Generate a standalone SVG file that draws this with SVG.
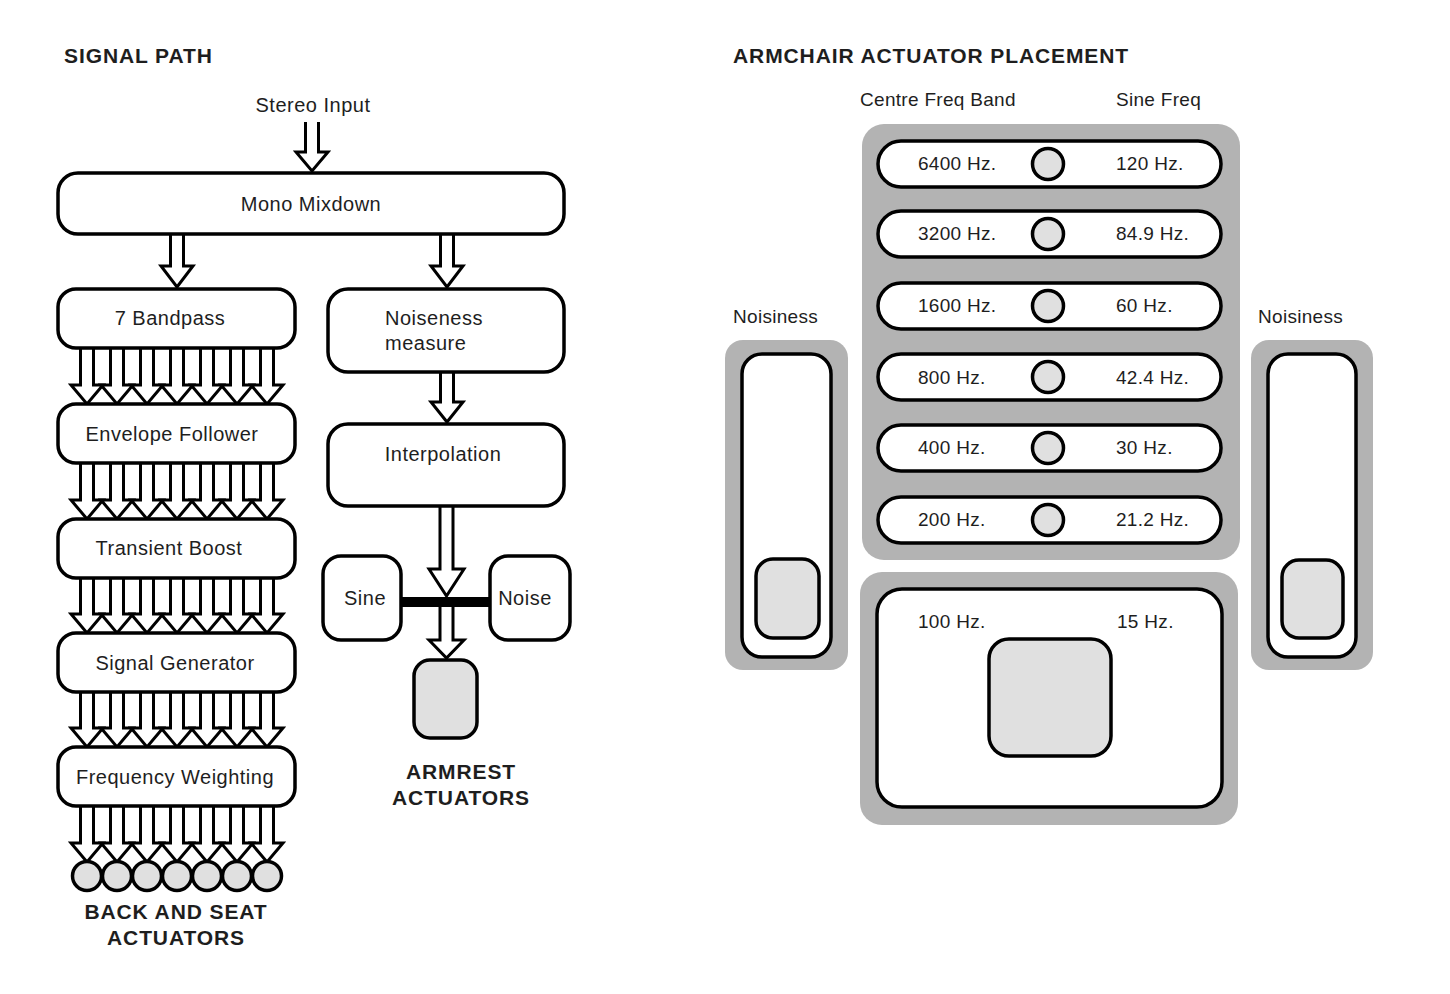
<svg xmlns="http://www.w3.org/2000/svg" xmlns:xlink="http://www.w3.org/1999/xlink" width="1450" height="994" viewBox="0 0 1450 994">
<style>
text{font-family:"Liberation Sans",Arial,Helvetica,sans-serif;fill:#1e1e1e}
.lbl{font-size:20px;letter-spacing:0.5px}
.sm{font-size:19px;letter-spacing:0.3px}
.ttl{font-size:21px;font-weight:bold;letter-spacing:0.9px}
.c{text-anchor:middle}
.box{fill:#fff;stroke:#000;stroke-width:3.5}
.gbox{fill:#e0e0e0;stroke:#000;stroke-width:3.5}
.panel{fill:#b3b3b3}
.arr{fill:#fff;stroke:#000;stroke-width:3;stroke-linejoin:miter}
</style>
<defs>
<path id="ar" class="arr" d="M-6.5,-58 V-19 H-16 L0,0 L16,-19 H6.5 V-58"/>
<g id="a7">
<use xlink:href="#ar" x="87"/><use xlink:href="#ar" x="117"/><use xlink:href="#ar" x="147"/><use xlink:href="#ar" x="177"/><use xlink:href="#ar" x="207"/><use xlink:href="#ar" x="237"/><use xlink:href="#ar" x="267"/>
</g>
</defs>
<rect width="1450" height="994" fill="#fff"/>

<text class="ttl" x="64" y="63">SIGNAL PATH</text>
<text class="ttl" x="733" y="63">ARMCHAIR ACTUATOR PLACEMENT</text>

<g id="connectors">
<path class="arr" d="M305.5,122 V152 H296 L312,171 L328,152 H318.5 V122"/>
<path class="arr" d="M170.5,234 V266 H161 L177,287 L193,266 H183.5 V234"/>
<path class="arr" d="M440.5,234 V266 H431 L447,287 L463,266 H453.5 V234"/>
<path class="arr" d="M440.5,372 V402 H431 L447,422 L463,402 H453.5 V372"/>
<path class="arr" d="M440,506 V569 H429 L446.5,596 L464,569 H453 V506"/>
<path class="arr" d="M440,604 V640 H429 L446.5,658 L464,640 H453 V604"/>
<rect x="400" y="597" width="90" height="10" fill="#000"/>
<use xlink:href="#a7" y="404"/>
<use xlink:href="#a7" y="519"/>
<use xlink:href="#a7" y="633"/>
<use xlink:href="#a7" y="747"/>
<use xlink:href="#a7" y="862"/>
</g>

<g id="stereo-input"><text class="lbl c" x="313" y="112">Stereo Input</text></g>
<g id="mono-mixdown"><rect class="box" x="58" y="173" width="506" height="61" rx="20"/><text class="lbl c" x="311" y="211">Mono Mixdown</text></g>
<g id="bandpass"><rect class="box" x="58" y="289" width="237" height="59" rx="18"/><text class="lbl c" x="170" y="325">7 Bandpass</text></g>
<g id="envelope"><rect class="box" x="58" y="404" width="237" height="59" rx="18"/><text class="lbl c" x="172" y="441">Envelope Follower</text></g>
<g id="transient"><rect class="box" x="58" y="519" width="237" height="59" rx="18"/><text class="lbl c" x="169" y="555">Transient Boost</text></g>
<g id="signal-gen"><rect class="box" x="58" y="633" width="237" height="59" rx="18"/><text class="lbl c" x="175" y="670">Signal Generator</text></g>
<g id="freq-weight"><rect class="box" x="58" y="747" width="237" height="59" rx="18"/><text class="lbl c" x="175" y="784">Frequency Weighting</text></g>
<g id="back-seat-actuators">
<circle class="gbox" cx="87" cy="876" r="14.5"/><circle class="gbox" cx="117" cy="876" r="14.5"/><circle class="gbox" cx="147" cy="876" r="14.5"/><circle class="gbox" cx="177" cy="876" r="14.5"/><circle class="gbox" cx="207" cy="876" r="14.5"/><circle class="gbox" cx="237" cy="876" r="14.5"/><circle class="gbox" cx="267" cy="876" r="14.5"/>
<text class="ttl c" x="176" y="919">BACK AND SEAT</text>
<text class="ttl c" x="176" y="945">ACTUATORS</text>
</g>
<g id="noiseness"><rect class="box" x="328" y="289" width="236" height="83" rx="20"/><text class="lbl" x="385" y="325">Noiseness</text><text class="lbl" x="385" y="350">measure</text></g>
<g id="interpolation"><rect class="box" x="328" y="424" width="236" height="82" rx="20"/><text class="lbl c" x="443" y="461">Interpolation</text></g>
<g id="sine"><rect class="box" x="323" y="556" width="78" height="84" rx="18"/><text class="lbl c" x="365" y="605">Sine</text></g>
<g id="noise"><rect class="box" x="490" y="556" width="80" height="84" rx="18"/><text class="lbl c" x="525" y="605">Noise</text></g>
<g id="armrest-actuators"><rect class="gbox" x="414" y="660" width="63" height="78" rx="16"/>
<text class="ttl c" x="461" y="779">ARMREST</text>
<text class="ttl c" x="461" y="805">ACTUATORS</text>
</g>

<g id="placement-headers">
<text class="sm" x="860" y="106">Centre Freq Band</text>
<text class="sm" x="1116" y="106">Sine Freq</text>
</g>
<g id="back-panel">
<rect class="panel" x="862" y="124" width="378" height="436" rx="22"/>
<rect class="box" x="878" y="141" width="343" height="46" rx="23"/><circle class="gbox" cx="1048" cy="164" r="15.5"/>
<text class="sm" x="918" y="170">6400 Hz.</text><text class="sm" x="1116" y="170">120 Hz.</text>
<rect class="box" x="878" y="211" width="343" height="46" rx="23"/><circle class="gbox" cx="1048" cy="234" r="15.5"/>
<text class="sm" x="918" y="240">3200 Hz.</text><text class="sm" x="1116" y="240">84.9 Hz.</text>
<rect class="box" x="878" y="283" width="343" height="46" rx="23"/><circle class="gbox" cx="1048" cy="306" r="15.5"/>
<text class="sm" x="918" y="312">1600 Hz.</text><text class="sm" x="1116" y="312">60 Hz.</text>
<rect class="box" x="878" y="354" width="343" height="46" rx="23"/><circle class="gbox" cx="1048" cy="377" r="15.5"/>
<text class="sm" x="918" y="384">800 Hz.</text><text class="sm" x="1116" y="384">42.4 Hz.</text>
<rect class="box" x="878" y="425" width="343" height="46" rx="23"/><circle class="gbox" cx="1048" cy="448" r="15.5"/>
<text class="sm" x="918" y="454">400 Hz.</text><text class="sm" x="1116" y="454">30 Hz.</text>
<rect class="box" x="878" y="497" width="343" height="46" rx="23"/><circle class="gbox" cx="1048" cy="520" r="15.5"/>
<text class="sm" x="918" y="526">200 Hz.</text><text class="sm" x="1116" y="526">21.2 Hz.</text>
</g>
<g id="seat-panel">
<rect class="panel" x="860" y="572" width="378" height="253" rx="22"/>
<rect class="box" x="877" y="589" width="345" height="218" rx="25"/>
<rect class="gbox" x="989" y="639" width="122" height="117" rx="20"/>
<text class="sm" x="918" y="628">100 Hz.</text><text class="sm" x="1117" y="628">15 Hz.</text>
</g>
<g id="left-armrest">
<text class="sm" x="733" y="323">Noisiness</text>
<rect class="panel" x="725" y="340" width="123" height="330" rx="18"/>
<rect class="box" x="742" y="354" width="89" height="303" rx="20"/>
<rect class="gbox" x="756" y="559" width="63" height="79" rx="17"/>
</g>
<g id="right-armrest">
<text class="sm" x="1258" y="323">Noisiness</text>
<rect class="panel" x="1251" y="340" width="122" height="330" rx="18"/>
<rect class="box" x="1268" y="354" width="88" height="303" rx="20"/>
<rect class="gbox" x="1282" y="560" width="61" height="78" rx="17"/>
</g>
</svg>
